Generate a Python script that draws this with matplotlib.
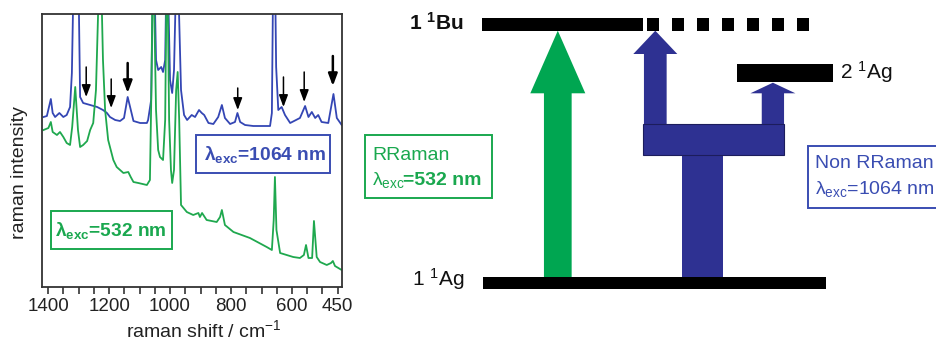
import matplotlib
matplotlib.use("Agg")
import matplotlib.pyplot as plt
from matplotlib.patches import Rectangle, Polygon

plt.rcParams["font.family"] = ["Liberation Sans", "DejaVu Sans"]
plt.rcParams["mathtext.fontset"] = "custom"
plt.rcParams["mathtext.rm"] = "Liberation Sans"
plt.rcParams["mathtext.it"] = "Liberation Sans:italic"
plt.rcParams["mathtext.bf"] = "Liberation Sans:bold"

# --- spectra (raman shift in cm-1, intensity in arbitrary units) ---
blue_shift = [1415, 1404, 1391, 1385, 1377, 1363, 1350, 1339, 1328, 1322,
              1311, 1300, 1295, 1285, 1262, 1239, 1220, 1207, 1197, 1180,
              1164, 1151, 1139, 1131, 1120, 1098, 1076, 1072, 1062, 1054,
              1046, 1039, 1029, 1023, 1016, 1010, 1000, 993, 987, 977,
              964, 954, 944, 929, 918, 905, 896, 888, 874, 858,
              842, 830, 820, 803, 787, 779, 770, 754, 727, 672,
              666, 659, 652, 645, 634, 623, 606, 574, 557, 546,
              535, 524, 514, 503, 481, 464, 453, 437]
blue_int = [170, 171, 188, 174, 170, 174, 170, 172, 180, 214,
            400, 300, 190, 184, 182, 180, 177, 174, 170, 167,
            166, 169, 190, 180, 166, 164, 164, 167, 187, 350,
            227, 217, 220, 215, 227, 350, 207, 194, 217, 350,
            197, 172, 167, 172, 170, 177, 174, 172, 164, 163,
            170, 182, 169, 163, 165, 174, 165, 162, 161, 161,
            174, 400, 220, 177, 180, 172, 164, 169, 181, 170,
            175, 169, 172, 165, 164, 193, 169, 162]

green_shift = [1415, 1399, 1391, 1385, 1371, 1361, 1350, 1339, 1328, 1321,
               1311, 1302, 1295, 1285, 1272, 1262, 1252, 1243, 1229, 1220,
               1213, 1203, 1186, 1175, 1153, 1137, 1129, 1120, 1104, 1076,
               1066, 1061, 1056, 1046, 1039, 1033, 1023, 1016, 1010, 1003,
               997, 993, 987, 980, 975, 970, 964, 945, 924, 907,
               902, 895, 880, 847, 836, 830, 820, 792, 738, 683,
               666, 660, 656, 651, 639, 596, 574, 561, 554, 546,
               534, 528, 519, 508, 486, 472, 466, 459, 437]
green_int = [157, 159, 165, 155, 152, 155, 150, 144, 142, 160,
             200, 157, 140, 142, 146, 157, 164, 197, 350, 227,
             177, 147, 127, 120, 114, 115, 110, 105, 104, 102,
             107, 200, 350, 177, 137, 130, 127, 167, 350, 167,
             117, 104, 117, 197, 215, 167, 82, 75, 72, 74,
             70, 74, 67, 65, 70, 77, 62, 55, 49, 40,
             37, 67, 110, 57, 34, 30, 29, 32, 42, 29,
             29, 66, 30, 25, 22, 24, 26, 21, 17]

# marked bands (arrows above the 1064 nm trace)
arrow_shift = [1275, 1193, 1139, 778, 628, 560, 466]
arrow_tip = [190, 179, 194, 177, 180, 185, 201]
arrow_tail = [220, 208, 224, 199, 210, 215, 231]
arrow_bold = [False, False, True, False, False, False, True]

labeled_ticks = [1400, 1200, 1000, 800, 600, 450]

# --- energy level scheme ---
level_names = ["1 $^{1}$Ag", "2 $^{1}$Ag", "1 $^{\\mathbf{1}}$Bu"]

BLUE_LINE = "#3446b4"
GREEN_LINE = "#1fa84e"
BLUE_TXT = "#3a4db2"
GREEN_TXT = "#1aa84f"
D_BLUE = "#2e3192"
D_GREEN = "#00a651"

W, H = 936, 341
fig = plt.figure(figsize=(W / 100, H / 100), dpi=100)

ax = fig.add_axes([42 / W, 1 - 287 / H, 300 / W, 273 / H])
ax.plot(blue_shift, blue_int, color=BLUE_LINE, lw=1.3)
ax.plot(green_shift, green_int, color=GREEN_LINE, lw=1.3)
ax.set_xlim(1420, 436)
ax.set_ylim(0, 273)
ax.set_yticks([])
ticks = list(range(1400, 449, -50))
ax.set_xticks(ticks, [str(t) if t in labeled_ticks else "" for t in ticks])
ax.tick_params(axis="x", direction="out", length=5, width=1.1,
               labelsize=13.5, pad=3, colors="#222222")
for sp in ax.spines.values():
    sp.set_linewidth(1.3)
    sp.set_color("#333333")
ax.set_xlabel("raman shift / cm$^{-1}$", fontsize=14, color="#222222")
ax.set_ylabel("raman intensity", fontsize=14, color="#222222")
ax.xaxis.set_label_coords(0.54, -0.117)
ax.yaxis.set_label_coords(-0.047, 0.42)

for s, tip, tail, bold in zip(arrow_shift, arrow_tip, arrow_tail, arrow_bold):
    ax.annotate("", xy=(s, tip), xytext=(s, tail),
                arrowprops=dict(arrowstyle="-|>,head_width=0.3,head_length=0.8",
                                color="black", lw=1.8 if bold else 1.1,
                                mutation_scale=9, shrinkA=0, shrinkB=0))

# overlay in pixel units for boxes and the level diagram
ad = fig.add_axes([0, 0, 1, 1], zorder=5)
ad.set_xlim(0, W)
ad.set_ylim(H, 0)
ad.axis("off")


def box(x0, y0, x1, y1, color):
    ad.add_patch(Rectangle((x0, y0), x1 - x0, y1 - y0, facecolor="white",
                           edgecolor=color, lw=1.4, zorder=3))


def up_arrow(xc, y_base, y_tip, shaft_w, head_w, head_len, color):
    yh = y_tip + head_len
    pts = [(xc - shaft_w / 2, y_base), (xc - shaft_w / 2, yh), (xc - head_w / 2, yh),
           (xc, y_tip), (xc + head_w / 2, yh), (xc + shaft_w / 2, yh),
           (xc + shaft_w / 2, y_base)]
    ad.add_patch(Polygon(pts, closed=True, facecolor=color, edgecolor="none", zorder=2))


# boxes inside the spectrum
box(196, 135, 330, 173, BLUE_TXT)
ad.text(204, 160, "\u03bb$_{\\mathbf{exc}}$=1064 nm", color=BLUE_TXT, fontsize=13.8,
        fontweight="bold", ha="left", va="baseline", zorder=4)
box(51, 211, 172, 249, GREEN_TXT)
ad.text(55, 236, "\u03bb$_{\\mathbf{exc}}$=532 nm", color=GREEN_TXT, fontsize=13.8,
        fontweight="bold", ha="left", va="baseline", zorder=4)

# RRaman / Non RRaman boxes
box(365, 135, 492, 198, GREEN_TXT)
ad.text(372, 155, "RRaman", color=GREEN_TXT, fontsize=14, ha="left", va="center", zorder=4)
ad.text(372, 185, "\u03bb$_{\\mathrm{exc}}$", color=GREEN_TXT, fontsize=14,
        ha="left", va="baseline", zorder=4)
ad.text(403, 185, "=532 nm", color=GREEN_TXT, fontsize=14, fontweight="bold",
        ha="left", va="baseline", zorder=4)
box(808, 146, 945, 208, BLUE_TXT)
ad.text(815, 164, "Non RRaman", color=BLUE_TXT, fontsize=14, ha="left", va="center", zorder=4)
ad.text(815, 194, "\u03bb$_{\\mathrm{exc}}$=1064 nm", color=BLUE_TXT, fontsize=14,
        ha="left", va="baseline", zorder=4)

# excitation arrows
up_arrow(557.8, 279, 30.7, 27.7, 55, 62.6, D_GREEN)
up_arrow(655.3, 125, 30.7, 22.7, 44, 23.3, D_BLUE)
up_arrow(772.9, 125, 82.7, 22.3, 45, 10.6, D_BLUE)
ad.add_patch(Rectangle((681.7, 154), 41, 125.3, facecolor=D_BLUE, edgecolor="none", zorder=2))
ad.add_patch(Rectangle((643.3, 124), 140.7, 31, facecolor=D_BLUE,
                       edgecolor="#1c1d5c", lw=0.8, zorder=2.5))

# energy levels
ad.add_patch(Rectangle((483.3, 276.7), 342.7, 12.6, facecolor="black", zorder=3))
ad.add_patch(Rectangle((736.7, 63.5), 96, 18, facecolor="black", zorder=3))
ad.add_patch(Rectangle((481.7, 18.3), 161.6, 12.4, facecolor="black", zorder=3))
for i in range(7):
    ad.add_patch(Rectangle((646.7 + 25 * i, 18.3), 12.6, 12.4, facecolor="black", zorder=3))

ad.text(465, 286, level_names[0], fontsize=15, ha="right", va="baseline", color="#111111")
ad.text(840, 79, level_names[1], fontsize=15, ha="left", va="baseline", color="#111111")
ad.text(464, 30, level_names[2], fontsize=15, fontweight="bold", ha="right",
        va="baseline", color="#111111")

fig.savefig("out.png", dpi=100)
